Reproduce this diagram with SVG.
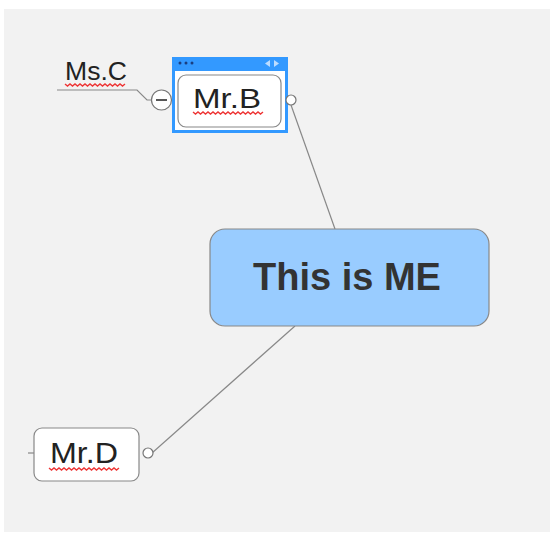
<svg xmlns="http://www.w3.org/2000/svg" width="550" height="538" viewBox="0 0 550 538">
<defs>
<style>
.lbl{font-family:"Liberation Sans",Arial,sans-serif;fill:#222;}
.node{fill:#fff;stroke:#888;stroke-width:1.2;}
.conn{fill:none;stroke:#888;stroke-width:1.2;}
.knob{fill:#fff;stroke:#777;stroke-width:1.2;}
.sq{fill:none;stroke:#e33;stroke-width:1.4;}
</style>
</defs>
<rect x="0" y="0" width="550" height="538" fill="#fff"/>
<rect x="4" y="9" width="546" height="523" fill="#f2f2f2"/>
<g id="connectors">
<path class="conn" d="M291 105 L335 229"/>
<path class="conn" d="M295 326 L152 453"/>
<path class="conn" d="M57 90 L137 90 L147 100 L151 100"/>
<path class="conn" d="M28 453 L34 453"/>
</g>
<g id="center">
<rect x="210" y="229" width="279" height="97" rx="15" fill="#99ccff" stroke="#888" stroke-width="1.2"/>
<text class="lbl" x="347" y="290" font-size="38" font-weight="bold" text-anchor="middle" style="fill:#333">This is ME</text>
</g>
<g id="mrb">
<rect x="172" y="57" width="116" height="76" fill="#3399ff"/>
<rect x="175" y="71" width="110" height="59" fill="#fff"/>
<circle cx="180" cy="63" r="1.5" fill="#1a3f80"/>
<circle cx="186" cy="63" r="1.5" fill="#1a3f80"/>
<circle cx="192" cy="63" r="1.5" fill="#1a3f80"/>
<path d="M270 60 L265 63.5 L270 67 Z" fill="#bcdcff"/>
<path d="M274 60 L279 63.5 L274 67 Z" fill="#bcdcff"/>
<rect class="node" x="178" y="75" width="103" height="52" rx="8"/>
<text class="lbl" x="193" y="108" font-size="28" textLength="68" lengthAdjust="spacingAndGlyphs">Mr.B</text>
<path class="sq" d="M193 112 l2.5 2 l2.5 -2 l2.5 2 l2.5 -2 l2.5 2 l2.5 -2 l2.5 2 l2.5 -2 l2.5 2 l2.5 -2 l2.5 2 l2.5 -2 l2.5 2 l2.5 -2 l2.5 2 l2.5 -2 l2.5 2 l2.5 -2 l2.5 2 l2.5 -2 l2.5 2 l2.5 -2 l2.5 2 l2.5 -2 l2.5 2 l2.5 -2 l2.5 2 l2.5 -2"/>
<circle class="knob" cx="161.5" cy="100" r="10"/>
<line x1="156" y1="100" x2="167" y2="100" stroke="#444" stroke-width="1.8"/>
<circle class="knob" cx="291" cy="100" r="5"/>
</g>
<g id="msc">
<text class="lbl" x="65" y="80" font-size="25" textLength="62" lengthAdjust="spacingAndGlyphs">Ms.C</text>
<path class="sq" d="M65 84 l2.5 2 l2.5 -2 l2.5 2 l2.5 -2 l2.5 2 l2.5 -2 l2.5 2 l2.5 -2 l2.5 2 l2.5 -2 l2.5 2 l2.5 -2 l2.5 2 l2.5 -2 l2.5 2 l2.5 -2 l2.5 2 l2.5 -2 l2.5 2 l2.5 -2 l2.5 2 l2.5 -2 l2.5 2 l2.5 -2"/>
</g>
<g id="mrd">
<rect class="node" x="34" y="428" width="105" height="53" rx="8"/>
<text class="lbl" x="50" y="463" font-size="30" textLength="68" lengthAdjust="spacingAndGlyphs">Mr.D</text>
<path class="sq" d="M49 468 l2.5 2 l2.5 -2 l2.5 2 l2.5 -2 l2.5 2 l2.5 -2 l2.5 2 l2.5 -2 l2.5 2 l2.5 -2 l2.5 2 l2.5 -2 l2.5 2 l2.5 -2 l2.5 2 l2.5 -2 l2.5 2 l2.5 -2 l2.5 2 l2.5 -2 l2.5 2 l2.5 -2 l2.5 2 l2.5 -2 l2.5 2 l2.5 -2 l2.5 2 l2.5 -2"/>
<circle class="knob" cx="148" cy="453" r="5"/>
</g>
</svg>
